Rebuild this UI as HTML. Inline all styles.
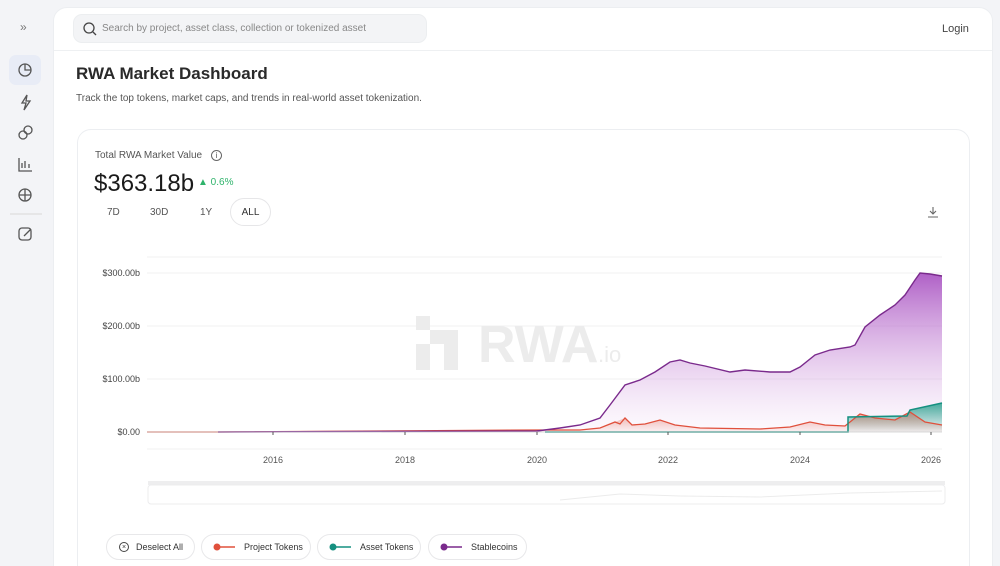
<!DOCTYPE html>
<html><head><meta charset="utf-8"><style>
*{margin:0;padding:0;box-sizing:border-box}
html,body{width:1000px;height:566px;overflow:hidden}
body{background:#f3f4f7;font-family:"Liberation Sans",sans-serif;position:relative;color:#222}
.abs{position:absolute}
.main{left:53px;top:7px;width:940px;height:580px;background:#fff;border-radius:14px;border:1px solid #eceef1}
.search{left:73px;top:14px;width:354px;height:29px;background:#f3f4f6;border-radius:9px;border:1px solid #eceef0}
.card{left:77px;top:129px;width:893px;height:460px;border:1px solid #eceef1;border-radius:14px;background:#fff}
.pill{position:absolute;top:534px;height:26px;border:1px solid #e8e8ea;border-radius:13px;font-size:9px;color:#333;display:flex;align-items:center;white-space:nowrap}
.pill svg{flex:none;margin:0 8px 0 10px}
</style></head><body>
<div class="abs" style="left:20px;top:20px;font-size:12px;color:#777">»</div>
<div class="abs" style="left:9px;top:55px;width:32px;height:30px;background:#e8ecf6;border-radius:7px"></div>
<svg class="abs" style="left:0;top:0" width="53" height="250" fill="none" stroke="#555" stroke-width="1.3">
<circle cx="25" cy="70" r="6"/><path d="M25 64v6h6"/>
<path d="M27 95l-5 8h4l-2 7 6-9h-4z"/>
<circle cx="23" cy="135" r="4"/><circle cx="28" cy="130" r="4"/>
<path d="M19 158v13h13M22 168v-5M25 168v-7M29 168v-4"/>
<circle cx="25" cy="195" r="6"/><path d="M25 189v12M19 195h12"/>
<path d="M10 214h32" stroke="#ddd"/>
<rect x="19" y="228" width="12" height="12" rx="3"/><path d="M24 236l7-7"/>
</svg>
<div class="abs main"></div>
<div class="abs" style="left:54px;top:50px;width:938px;height:1px;background:#eef0f2"></div>
<div class="abs search"></div>
<svg class="abs" style="left:83px;top:22px" width="14" height="14" fill="none" stroke="#444" stroke-width="1.3"><circle cx="6" cy="6" r="5"/><path d="M10 10l3 3"/></svg>
<div class="abs" style="left:102px;top:23px;font-size:10px;color:#888">Search by project, asset class, collection or tokenized asset</div>
<div class="abs" style="left:942px;top:23px;font-size:11px;color:#444">Login</div>
<div class="abs" style="left:76px;top:64px;font-size:17px;font-weight:bold;color:#2a2a2a">RWA Market Dashboard</div>
<div class="abs" style="left:76px;top:93px;font-size:10px;color:#555">Track the top tokens, market caps, and trends in real-world asset tokenization.</div>
<div class="abs card"></div>
<div class="abs" style="left:95px;top:150px;font-size:10px;color:#555">Total RWA Market Value <span style="display:inline-block;width:11px;height:11px;border:1px solid #666;border-radius:50%;font-size:8px;text-align:center;line-height:10px;margin-left:6px">i</span></div>
<div class="abs" style="left:94px;top:170px;font-size:24px;color:#1a1a1a">$363.18b</div>
<div class="abs" style="left:198px;top:177px;font-size:10px;color:#2fb36b">▲ 0.6%</div>
<div class="abs" style="left:107px;top:207px;font-size:10px;color:#555">7D</div>
<div class="abs" style="left:150px;top:207px;font-size:10px;color:#555">30D</div>
<div class="abs" style="left:200px;top:207px;font-size:10px;color:#555">1Y</div>
<div class="abs" style="left:230px;top:198px;width:41px;height:28px;border:1px solid #e6e6e8;border-radius:14px;font-size:10px;text-align:center;line-height:27px;color:#333">ALL</div>
<svg class="abs" style="left:927px;top:206px" width="12" height="12" fill="none" stroke="#666" stroke-width="1.1"><path d="M6 1v7M3 5l3 3 3-3M1 11h10"/></svg>
<svg class="abs" style="left:0;top:0" width="1000" height="566">
<defs>
<linearGradient id="gp" x1="0" y1="0" x2="0" y2="1"><stop offset="0" stop-color="#a64ec0" stop-opacity=".9"/><stop offset="1" stop-color="#e8c8ee" stop-opacity=".1"/></linearGradient>
<linearGradient id="gg" x1="0" y1="0" x2="0" y2="1"><stop offset="0" stop-color="#1a9a85" stop-opacity=".8"/><stop offset="1" stop-color="#1a9a85" stop-opacity=".05"/></linearGradient>
<linearGradient id="gr" x1="0" y1="0" x2="0" y2="1"><stop offset="0" stop-color="#e0604a" stop-opacity=".5"/><stop offset="1" stop-color="#e0604a" stop-opacity=".05"/></linearGradient>
</defs>
<g stroke="#f0f0f2"><path d="M147 273H942M147 326H942M147 379H942M147 257H942M147 449H942"/></g>
<text x="478" y="362" font-size="52" font-weight="bold" fill="#ececec" font-family="Liberation Sans">RWA</text>
<text x="598" y="362" font-size="22" fill="#ececec" font-family="Liberation Sans">.io</text>
<g fill="#ececec"><rect x="416" y="316" width="14" height="14"/><rect x="430" y="330" width="14" height="14"/><rect x="416" y="344" width="14" height="26"/><rect x="444" y="330" width="14" height="26"/><rect x="444" y="356" width="14" height="14"/></g>
<g font-size="9" fill="#444" text-anchor="end" font-family="Liberation Sans"><text x="140" y="276">$300.00b</text><text x="140" y="329">$200.00b</text><text x="140" y="382">$100.00b</text><text x="140" y="435">$0.00</text></g>
<g font-size="9" fill="#555" text-anchor="middle" font-family="Liberation Sans"><text x="273" y="463">2016</text><text x="405" y="463">2018</text><text x="537" y="463">2020</text><text x="668" y="463">2022</text><text x="800" y="463">2024</text><text x="931" y="463">2026</text></g>
<path d="M218 432L537 431L560 428L580 425L600 418L610 405L625 385L640 380L655 372L670 362L680 360L690 363L705 366L730 372L745 370L770 372L790 372L800 367L815 355L830 350L850 347L855 345L865 327L880 315L895 305L905 295L915 280L920 273L930 274L942 276L942 432Z" fill="url(#gp)"/>
<path d="M545 432L848 432L848 417L907 416L910 410L942 403L942 432Z" fill="url(#gg)"/>
<path d="M537 430L580 430L600 428L615 422L625 418L632 425L645 424L660 420L675 425L700 428L760 429L790 427L810 422L825 425L845 426L860 414L875 418L895 420L910 412L925 422L942 425L942 432L537 432Z" fill="url(#gr)"/>
<path d="M147 432L218 432L537 430L580 430L600 428L615 422L620 424L625 418L632 425L645 424L660 420L675 425L700 428L760 429L790 427L810 422L825 425L845 426L860 414L875 418L895 420L910 412L925 422L942 425" fill="none" stroke="#e0503c" stroke-width="1.3"/>
<path d="M545 432L848 432L848 417L907 416L910 410L942 403" fill="none" stroke="#159080" stroke-width="1.5"/>
<path d="M218 432L537 431L560 428L580 425L600 418L610 405L625 385L640 380L655 372L670 362L680 360L690 363L705 366L730 372L745 370L770 372L790 372L800 367L815 355L830 350L850 347L855 345L865 327L880 315L895 305L905 295L915 280L920 273L930 274L942 276" fill="none" stroke="#7a2a8c" stroke-width="1.4"/>
<path d="M147 432H942" stroke="#ccc" stroke-width=".8"/>
<g stroke="#555"><path d="M273 432v3M405 432v3M537 432v3M668 432v3M800 432v3M931 432v3"/></g>
<rect x="148" y="481" width="797" height="4" fill="#eeeeef"/>
<rect x="148" y="485" width="797" height="19" rx="3" fill="#fff" stroke="#ececee"/>
<path d="M560 500L620 494L680 496L760 497L850 493L942 491" fill="none" stroke="#ececec"/>
</svg>
<div class="pill" style="left:106px;width:89px"><span style="display:inline-block;width:10px;height:10px;border:1px solid #444;border-radius:50%;font-size:7px;text-align:center;line-height:9px;margin:0 7px 0 12px">×</span>Deselect All</div>
<div class="pill" style="left:201px;width:110px"><svg width="24" height="10"><circle cx="5" cy="5" r="3.5" fill="#e0503c"/><path d="M5 5h18" stroke="#e0503c" stroke-width="1.5"/></svg>Project Tokens</div>
<div class="pill" style="left:317px;width:104px"><svg width="24" height="10"><circle cx="5" cy="5" r="3.5" fill="#159080"/><path d="M5 5h18" stroke="#159080" stroke-width="1.5"/></svg>Asset Tokens</div>
<div class="pill" style="left:428px;width:99px"><svg width="24" height="10"><circle cx="5" cy="5" r="3.5" fill="#7a2a8c"/><path d="M5 5h18" stroke="#7a2a8c" stroke-width="1.5"/></svg>Stablecoins</div>
</body></html>
